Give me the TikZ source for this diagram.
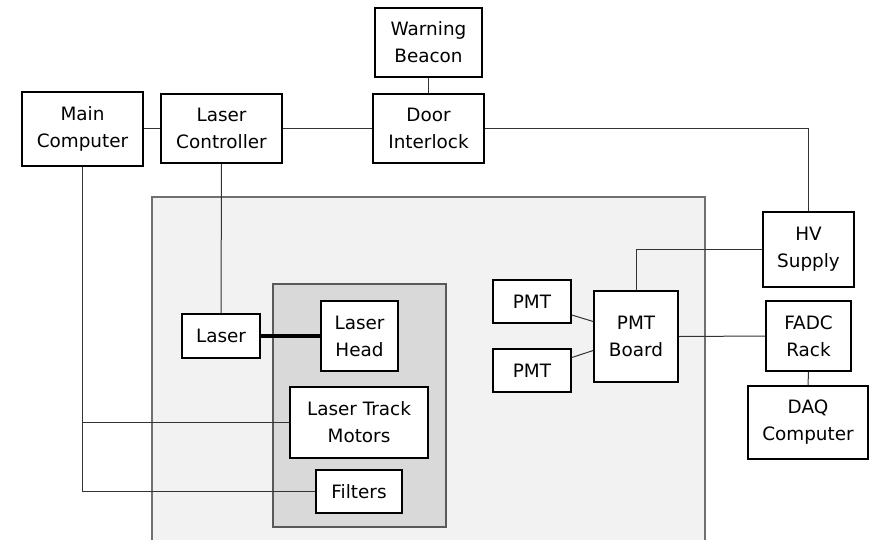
\documentclass[tikz,border=0pt]{standalone}
\usepackage{fontspec}
\setmainfont{DejaVu Sans}
\usetikzlibrary{calc}
\definecolor{outerfill}{HTML}{F2F2F2}
\definecolor{innerfill}{HTML}{D9D9D9}
\definecolor{rimgray}{HTML}{707070}
\definecolor{wire}{HTML}{333333}
\begin{document}
\begin{tikzpicture}[x=1pt,y=-1pt,
  blk/.style={draw=black, line width=1.6pt, fill=white, inner sep=0pt, align=center,
    font=\fontsize{18.4}{27}\selectfont},
  wireline/.style={draw=wire, line width=1pt},
  beam/.style={draw=black, line width=4pt},
  zone/.style={draw=rimgray, line width=1.3pt}]
\useasboundingbox (0,0) rectangle (869,539);
\begin{scope}
\clip (0,0) rectangle (869,539);
\path[zone, fill=outerfill] (152,197) rectangle (705,560);
\end{scope}
\path[zone, fill=innerfill, draw=black!65] (273,284) rectangle (446,527);

\node[blk, minimum width=107, minimum height=69] (beacon) at (428.5,42.5) {Warning\\Beacon};
\node[blk, minimum width=111, minimum height=69] (door) at (428.5,128.5) {Door\\Interlock};
\node[blk, minimum width=121, minimum height=74] (main) at (82.5,129) {Main\\Computer};
\node[blk, minimum width=121, minimum height=69] (lasctl) at (221.5,128.5) {Laser\\Controller};
\node[blk, minimum width=91, minimum height=75] (hv) at (808.5,249.5) {HV\\Supply};
\node[blk, minimum width=85, minimum height=70] (fadc) at (808.5,336) {FADC\\Rack};
\node[blk, minimum width=120, minimum height=73] (daq) at (808,422.5) {DAQ\\Computer};
\node[blk, minimum width=78, minimum height=43] (pmta) at (532,301.5) {PMT};
\node[blk, minimum width=78, minimum height=43] (pmtb) at (532,370.5) {PMT};
\node[blk, minimum width=84, minimum height=91] (board) at (636,336.5) {PMT\\Board};
\node[blk, minimum width=78, minimum height=44] (laser) at (221,336) {Laser};
\node[blk, minimum width=77, minimum height=70] (head) at (359.5,336) {Laser\\Head};
\node[blk, minimum width=138, minimum height=71] (ltm) at (359,422.5) {Laser Track\\Motors};
\node[blk, minimum width=86, minimum height=43] (filters) at (359,491.5) {Filters};

\draw[wireline] (main.east |- lasctl.west) -- (lasctl.west);
\draw[wireline] (lasctl.east) -- (door.west);
\draw[wireline] (beacon.south) -- (door.north);
\draw[wireline] (door.east) -| (hv.north);
\draw[wireline] (lasctl.south) -- (laser.north);
\draw[beam] (laser.east) -- (head.west);
\draw[wireline] (main.south) |- (filters.west);
\draw[wireline] (main.south |- ltm.west) -- (ltm.west);
\draw[wireline] (board.north) |- (hv.west);
\draw[wireline] (board.east) -- (fadc.west);
\draw[wireline] (fadc.south) -- (daq.north);
\draw[wireline] ([yshift=-13.5pt]pmta.east) -- ([yshift=15pt]board.west);
\draw[wireline] ([yshift=13pt]pmtb.east) -- ([yshift=-14pt]board.west);
\end{tikzpicture}
\end{document}
